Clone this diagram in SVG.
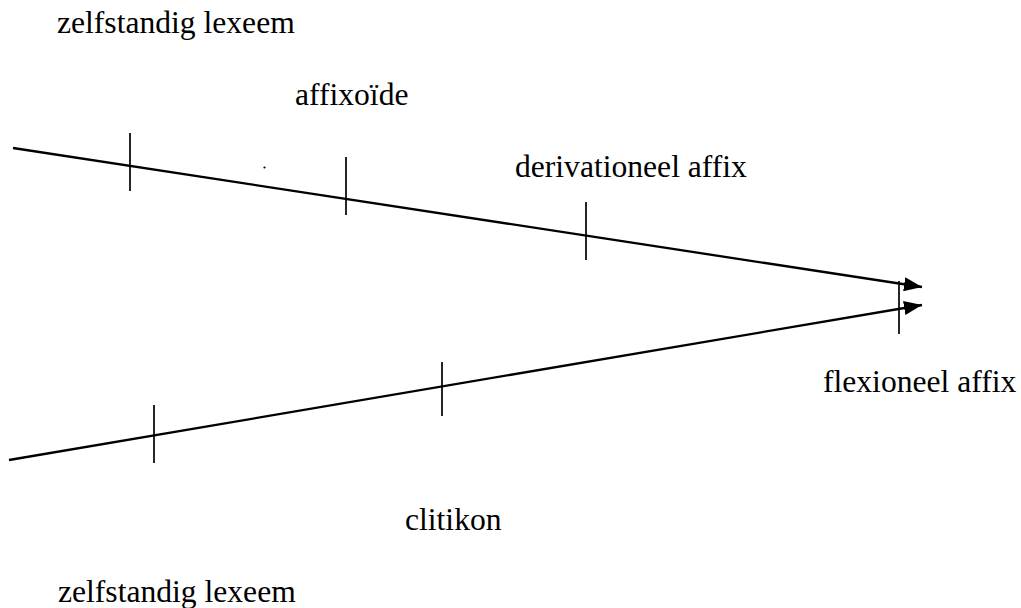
<svg xmlns="http://www.w3.org/2000/svg" width="1021" height="608" viewBox="0 0 1021 608">
  <style>
    .lbl { font-family: "Liberation Serif", "Times New Roman", serif; font-size: 31.6px; fill: #000; }
    .axis { stroke: #000; stroke-width: 2.3; fill: none; }
    .tick { stroke: #000; stroke-width: 1.7; }
  </style>
  <defs>
    <marker id="arrow" viewBox="0 0 18 14" refX="18" refY="7" markerWidth="18" markerHeight="14" markerUnits="userSpaceOnUse" orient="auto">
      <path d="M0,0 L18,7 L0,14 z" fill="#000"/>
    </marker>
  </defs>
  <rect width="1021" height="608" fill="#fff"/>
  <g id="connectors">
    <line id="top-axis" class="axis" x1="13" y1="148" x2="922" y2="287" marker-end="url(#arrow)"/>
    <line id="bottom-axis" class="axis" x1="9" y1="460" x2="922" y2="305" marker-end="url(#arrow)"/>
  </g>
  <g id="ticks">
    <line class="tick" x1="130" y1="133" x2="130" y2="191"/>
    <line class="tick" x1="346" y1="157" x2="346" y2="215"/>
    <line class="tick" x1="586" y1="202" x2="586" y2="260"/>
    <line class="tick" x1="899" y1="281" x2="899" y2="334"/>
    <line class="tick" x1="154" y1="405" x2="154" y2="463"/>
    <line class="tick" x1="442" y1="362" x2="442" y2="416"/>
  </g>
  <circle cx="264.5" cy="167.5" r="1.1" fill="#000"/>
  <g id="label-zelfstandig-top"><text class="lbl" x="57" y="33">zelfstandig lexeem</text></g>
  <g id="label-affixoide"><text class="lbl" x="295" y="105">affixoïde</text></g>
  <g id="label-derivationeel"><text class="lbl" x="515" y="177">derivationeel affix</text></g>
  <g id="label-flexioneel"><text class="lbl" x="823" y="392">flexioneel affix</text></g>
  <g id="label-clitikon"><text class="lbl" x="405" y="530">clitikon</text></g>
  <g id="label-zelfstandig-bottom"><text class="lbl" x="58" y="602">zelfstandig lexeem</text></g>
</svg>
